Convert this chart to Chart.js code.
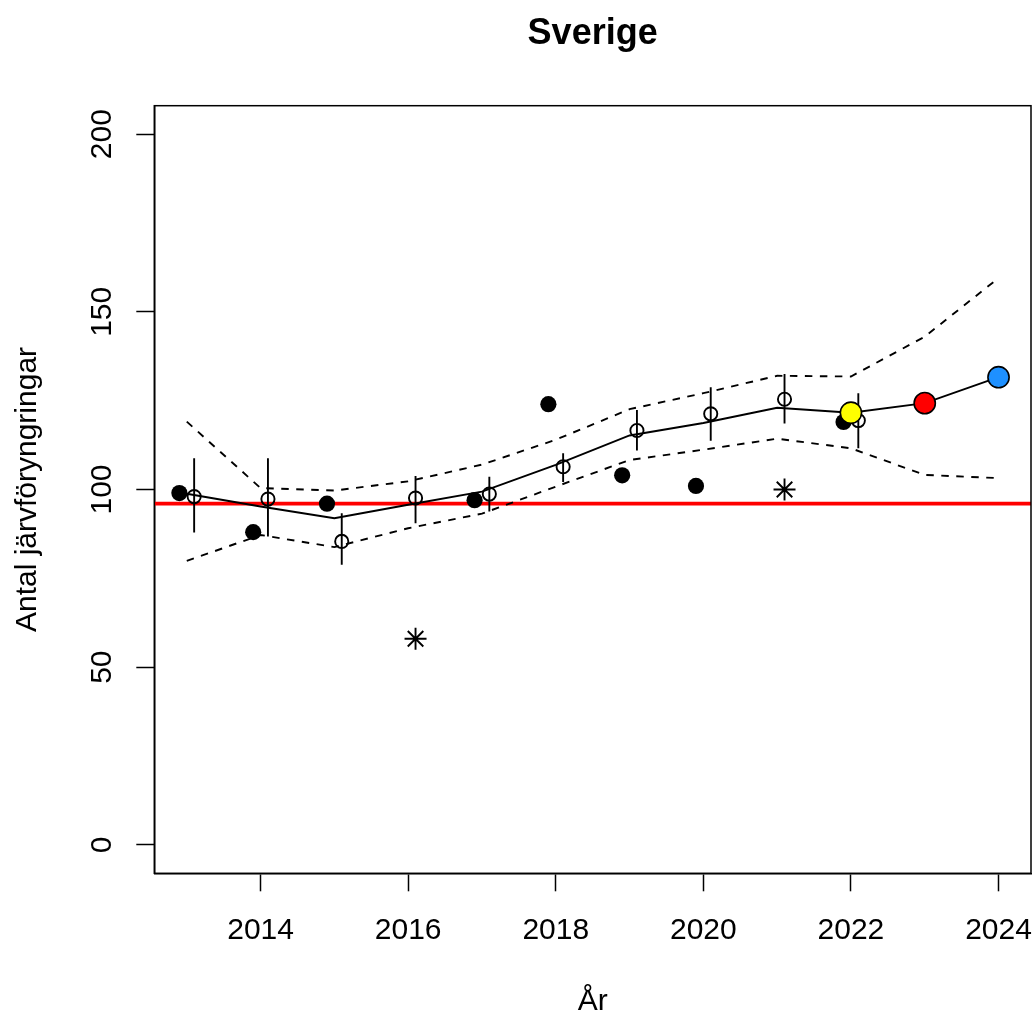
<!DOCTYPE html>
<html>
<head>
<meta charset="utf-8">
<script src="https://cdn.jsdelivr.net/npm/chart.js@4"></script>
<style>
  html, body { margin: 0; padding: 0; background: #ffffff; }
  #wrap { width: 1035px; height: 1016px; }
</style>
</head>
<body>
<div id="wrap"><canvas id="chart" width="1035" height="1016"></canvas></div>
<script>
// Modelled population: trend with confidence band, 2013-2024
const trendYears  = [2013, 2014, 2015, 2016, 2017, 2018, 2019, 2020, 2021, 2022, 2023, 2024];
const trendValues = [98.8, 95.2, 91.9, 95.7, 99.4, 106.9, 115.2, 118.7, 123.0, 121.6, 124.3, 131.6];
const upperValues = [119.1, 100.4, 99.7, 102.3, 107.0, 114.0, 122.6, 127.1, 132.0, 131.8, 143.0, 159.5];
const lowerValues = [79.9, 87.2, 83.8, 89.1, 93.2, 100.8, 108.3, 111.2, 114.3, 111.6, 104.1, 103.2];

// Yearly inventory counts (filled dots) and estimates with intervals (open circles)
const countYears     = [2013, 2014, 2015, 2016, 2017, 2018, 2019, 2020, 2021, 2022];
const countValues    = [99, 88, 96, null, 97, 124, 104, 101, null, 119];
const estimateValues = [98.0, 97.3, 85.4, 97.6, 98.7, 106.4, 116.6, 121.3, 125.4, 119.4];
const estimateLow    = [87.9, 86.8, 78.8, 90.5, 93.8, 102.1, 111.0, 113.7, 118.6, 111.6];
const estimateHigh   = [108.8, 108.8, 93.3, 103.8, 103.6, 110.2, 122.4, 128.8, 132.5, 127.1];

// Years with incomplete inventory (asterisks)
const extraYears  = [2016, 2021];
const extraValues = [58, 100];

// Latest three years, highlighted
const highlightYears  = [2022, 2023, 2024];
const highlightValues = [121.6, 124.3, 131.6];
const highlightColors = ['#FFFF00', '#FF0000', '#1E90FF'];

// Reference level
const referenceLevel = 96;

// Axis ticks and ranges
const xTicks = [2014, 2016, 2018, 2020, 2022, 2024];
const yTicks = [0, 50, 100, 150, 200];
const xRange = [2012.56, 2024.44];
const yRange = [-8, 208];

const chartTitle = 'Sverige';

const FONT = "'Liberation Sans', Arial, Helvetica, sans-serif";
Chart.defaults.font.family = FONT;
Chart.defaults.color = '#000000';

const countOffset = -0.1;
const estimateOffset = 0.1;

const pts = (xs, ys, dx) => xs.map((x, i) => ({ x: x + (dx || 0), y: ys[i] }));

const errorBarData = [];
countYears.forEach((yr, i) => {
  const x = yr + estimateOffset;
  errorBarData.push({ x, y: estimateLow[i] });
  errorBarData.push({ x, y: estimateHigh[i] });
  errorBarData.push({ x, y: null });
});

// Frame around the plot, main title over the plot and rotated y tick labels
const framePlugin = {
  id: 'frame',
  afterDraw(chart) {
    const { ctx, chartArea } = chart;
    const ys = chart.scales.y;
    ctx.save();
    ctx.strokeStyle = '#000000';
    ctx.lineWidth = 1.5;
    ctx.strokeRect(chartArea.left, chartArea.top,
      chartArea.right - chartArea.left, chartArea.bottom - chartArea.top);

    ctx.fillStyle = '#000000';
    ctx.textAlign = 'center';
    ctx.textBaseline = 'alphabetic';
    ctx.font = 'bold 36px ' + FONT;
    ctx.fillText(chartTitle, (chartArea.left + chartArea.right) / 2, 44);

    ctx.font = '30px ' + FONT;
    yTicks.forEach(v => {
      const py = ys.getPixelForValue(v);
      ctx.save();
      ctx.translate(chartArea.left - 43, py);
      ctx.rotate(-Math.PI / 2);
      ctx.fillText(String(v), 0, 0);
      ctx.restore();
    });
    ctx.restore();
  }
};

new Chart(document.getElementById('chart'), {
  type: 'scatter',
  data: {
    datasets: [
      {
        label: 'Senaste år',
        type: 'scatter',
        data: pts(highlightYears, highlightValues),
        pointRadius: 10.6,
        pointBackgroundColor: highlightColors,
        pointBorderColor: '#000000',
        pointBorderWidth: 1.6,
        order: 0
      },
      {
        label: 'Ofullständig inventering',
        type: 'scatter',
        data: pts(extraYears, extraValues, estimateOffset),
        pointStyle: 'star',
        pointRadius: 11,
        pointBorderColor: '#000000',
        pointBorderWidth: 1.9,
        order: 1
      },
      {
        label: 'Skattning',
        type: 'scatter',
        data: pts(countYears, estimateValues, estimateOffset),
        pointRadius: 6.6,
        pointBackgroundColor: 'rgba(0,0,0,0)',
        pointBorderColor: '#000000',
        pointBorderWidth: 1.9,
        order: 2
      },
      {
        label: 'Inventerat',
        type: 'scatter',
        data: pts(countYears, countValues, countOffset),
        pointRadius: 8.1,
        pointBackgroundColor: '#000000',
        pointBorderColor: '#000000',
        pointBorderWidth: 0,
        order: 3
      },
      {
        label: 'Intervall',
        type: 'line',
        data: errorBarData,
        borderColor: '#000000',
        borderWidth: 1.9,
        pointRadius: 0,
        spanGaps: false,
        tension: 0,
        order: 4
      },
      {
        label: 'Trend',
        type: 'line',
        data: pts(trendYears, trendValues),
        borderColor: '#000000',
        borderWidth: 1.9,
        pointRadius: 0,
        tension: 0,
        order: 5
      },
      {
        label: 'Övre gräns',
        type: 'line',
        data: pts(trendYears, upperValues),
        borderColor: '#000000',
        borderWidth: 1.9,
        borderDash: [7.5, 7.5],
        pointRadius: 0,
        tension: 0,
        order: 6
      },
      {
        label: 'Undre gräns',
        type: 'line',
        data: pts(trendYears, lowerValues),
        borderColor: '#000000',
        borderWidth: 1.9,
        borderDash: [7.5, 7.5],
        pointRadius: 0,
        tension: 0,
        order: 6
      },
      {
        label: 'Referensnivå',
        type: 'line',
        data: [{ x: xRange[0], y: referenceLevel }, { x: xRange[1], y: referenceLevel }],
        borderColor: '#FF0000',
        borderWidth: 3.8,
        pointRadius: 0,
        order: 7
      }
    ]
  },
  options: {
    responsive: false,
    devicePixelRatio: 1,
    animation: false,
    events: [],
    layout: { autoPadding: false, padding: { left: 0, right: 4, top: 105.7, bottom: 0 } },
    plugins: {
      legend: { display: false },
      tooltip: { enabled: false },
      title: { display: false }
    },
    scales: {
      x: {
        type: 'linear',
        min: xRange[0],
        max: xRange[1],
        afterBuildTicks: s => { s.ticks = xTicks.map(v => ({ value: v })); },
        afterFit: s => { s.height = 142.7; s.paddingLeft = 0; s.paddingRight = 0; },
        ticks: {
          autoSkip: false,
          maxRotation: 0,
          minRotation: 0,
          padding: 21,
          color: '#000000',
          font: { size: 30, family: FONT, lineHeight: 1.2 },
          callback: v => String(v)
        },
        grid: {
          drawOnChartArea: false,
          drawTicks: true,
          tickLength: 18,
          tickColor: '#000000',
          tickWidth: 1.5
        },
        border: { display: true, color: '#000000', width: 1.5 },
        title: {
          display: true,
          text: 'År',
          color: '#000000',
          font: { size: 30, family: FONT, lineHeight: 1.2 },
          padding: { top: 0, bottom: -4 }
        }
      },
      y: {
        type: 'linear',
        min: yRange[0],
        max: yRange[1],
        afterBuildTicks: s => { s.ticks = yTicks.map(v => ({ value: v })); },
        afterFit: s => { s.width = 154.3; s.paddingTop = 0; s.paddingBottom = 0; },
        ticks: { display: false },
        grid: {
          drawOnChartArea: false,
          drawTicks: true,
          tickLength: 18,
          tickColor: '#000000',
          tickWidth: 1.5
        },
        border: { display: true, color: '#000000', width: 1.5 },
        title: {
          display: true,
          text: 'Antal järvföryngringar',
          color: '#000000',
          font: { size: 30, family: FONT, lineHeight: 1.2 },
          padding: { top: 10, bottom: 0 }
        }
      }
    }
  },
  plugins: [framePlugin]
});
</script>
</body>
</html>
